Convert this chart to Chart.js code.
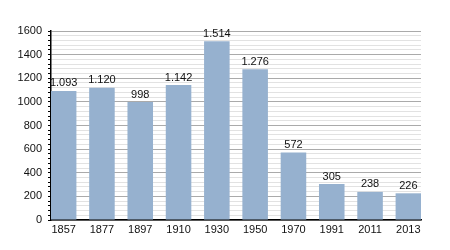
<!DOCTYPE html>
<html><head><meta charset="utf-8">
<script src="https://cdn.jsdelivr.net/npm/chart.js@4"></script>
<style>html,body{margin:0;padding:0;background:#fff}#wrap{width:450px;height:250px}</style>
</head><body><div id="wrap"><canvas id="c" width="450" height="250"></canvas></div>
<script>
const years = ["1857","1877","1897","1910","1930","1950","1970","1991","2011","2013"];
const population = [1093,1120,998,1142,1514,1276,572,305,238,226];
const yMax = 1600;
const yStep = 40;
const labelStep = 200;

function fmt(v){return String(v).replace(/\B(?=(\d{3})+(?!\d))/g,'.');}

const valueLabels = {
  id:'valueLabels',
  afterDatasetsDraw(chart){
    const ctx = chart.ctx;
    const meta = chart.getDatasetMeta(0);
    ctx.save();
    ctx.font = '11px "Liberation Sans", Arial, sans-serif';
    ctx.fillStyle = '#111';
    ctx.textAlign = 'center';
    ctx.textBaseline = 'bottom';
    meta.data.forEach((bar,i)=>{
      ctx.fillText(fmt(population[i]), bar.x, bar.y - 2);
    });
    ctx.restore();
  }
};

const points = years.map((y,i)=>({x:i,y:population[i]}));

new Chart(document.getElementById('c'),{
  type:'bar',
  data:{datasets:[{data:points,backgroundColor:'#96b1cf',borderWidth:0,categoryPercentage:0.667,barPercentage:1}]},
  options:{
    responsive:false,animation:false,
    layout:{padding:{top:31,right:29,bottom:0,left:0}},
    plugins:{legend:{display:false},tooltip:{enabled:false}},
    scales:{
      x:{
        type:'linear',
        min:-0.33,max:years.length-1+0.33,
        offset:false,
        grid:{display:false,drawTicks:false},
        border:{color:'#000',width:1.5},
        ticks:{
          stepSize:1,autoSkip:false,includeBounds:false,
          color:'#111',font:{size:11,family:'"Liberation Sans", Arial, sans-serif'},padding:3,maxRotation:0,
          callback:(v)=> Number.isInteger(v) && years[v] !== undefined ? years[v] : ''
        },
        afterFit(s){s.height=30;}
      },
      y:{
        min:0,max:yMax,
        border:{color:'#000',width:1.5},
        grid:{
          color:(c)=> (c.tick && c.tick.value % labelStep === 0) ? '#aaaaaa' : '#e2e2e2',
          tickColor:'#000',tickLength:3,
          lineWidth:1
        },
        ticks:{
          stepSize:yStep,
          autoSkip:false,
          color:'#111',
          font:{size:11,family:'"Liberation Sans", Arial, sans-serif'},
          padding:6,
          callback:(v)=> v % labelStep === 0 ? String(v) : ''
        },
        afterFit(s){s.width=51;}
      }
    }
  },
  plugins:[valueLabels]
});
</script></body></html>
